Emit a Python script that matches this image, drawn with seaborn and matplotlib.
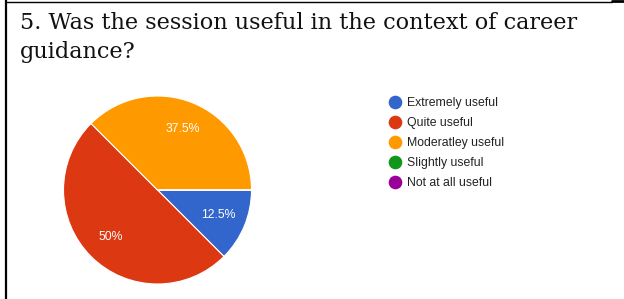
import matplotlib
matplotlib.use("Agg")
import matplotlib.pyplot as plt
from matplotlib.lines import Line2D
import seaborn as sns

# ---- data ----
title_lines = ["5. Was the session useful in the context of career", "guidance?"]
categories = ["Extremely useful", "Quite useful", "Moderatley useful",
              "Slightly useful", "Not at all useful"]
values = [12.5, 50.0, 37.5, 0.0, 0.0]
colors = ["#3366cc", "#dc3912", "#ff9900", "#109618", "#990099"]

sns.set_theme(style="white")
plt.rcParams["font.family"] = ["Liberation Sans", "DejaVu Sans"]
palette = sns.color_palette(colors)

W, H = 624, 299
fig = plt.figure(figsize=(W / 100, H / 100), dpi=100)
fig.patch.set_facecolor("white")

# pie axes: centre (157.5, 190) px, radius 94 px
cx, cy, r = 157.5, 190, 94
ax = fig.add_axes([(cx - r) / W, (H - cy - r) / H, 2 * r / W, 2 * r / H])


def fmt(p):
    return "" if p < 0.5 else (f"{p:.1f}%" if abs(p - round(p)) > 0.01 else f"{p:.0f}%")


wedges, texts, autotexts = ax.pie(
    values, colors=palette, startangle=0, counterclock=False,
    autopct=fmt, pctdistance=0.70,
    wedgeprops=dict(edgecolor="white", linewidth=0.8),
    textprops=dict(color="white", fontsize=8.8),
)
ax.set_xlim(-1, 1)
ax.set_ylim(-1, 1)
ax.set_aspect("equal")
ax.axis("off")

# legend
handles = [Line2D([], [], marker="o", linestyle="none", markersize=8.8,
                  markerfacecolor=c, markeredgecolor=c) for c in palette]
fig.legend(handles, categories, loc="upper left",
           bbox_to_anchor=(389.3 / W, 1 - 97 / H), frameon=False,
           fontsize=8.8, handlelength=1.0, handletextpad=0.43,
           labelspacing=0.66, borderpad=0, borderaxespad=0,
           labelcolor="#222222")

# title
fig.text(20 / W, 1 - 12 / H, "\n".join(title_lines), ha="left", va="top",
         fontsize=16.1, family=["DejaVu Serif"], color="#111111",
         linespacing=1.42)

# border lines
fig.add_artist(Line2D([6 / W, 6 / W], [0, 1], transform=fig.transFigure,
                      color="black", linewidth=1.6))
fig.add_artist(Line2D([6 / W, 612 / W], [1 - 1.5 / H, 1 - 1.5 / H],
                      transform=fig.transFigure, color="black", linewidth=1.0))
fig.add_artist(Line2D([612 / W, 1], [1 - 1 / H, 1 - 1 / H],
                      transform=fig.transFigure, color="black", linewidth=2.0))

fig.savefig("out.png", dpi=100, facecolor="white")
